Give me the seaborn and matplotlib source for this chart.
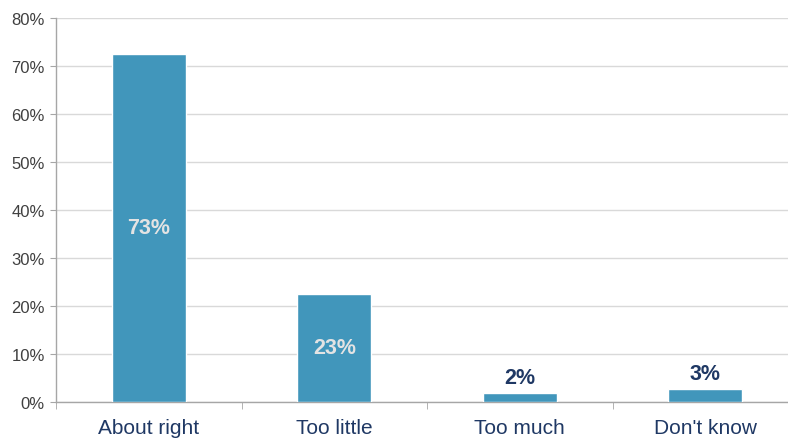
import pandas as pd
import seaborn as sns
import matplotlib.pyplot as plt
from matplotlib.ticker import FixedLocator, PercentFormatter

categories = ["About right", "Too little", "Too much", "Don't know"]
values = [72.5, 22.5, 1.9, 2.8]
labels = ["73%", "23%", "2%", "3%"]

df = pd.DataFrame({"answer": categories, "share": values})

sns.set_style("white")
plt.rcParams["font.family"] = ["Liberation Sans", "DejaVu Sans"]

fig = plt.figure(figsize=(7.88, 4.39), dpi=100)
ax = fig.add_axes([56 / 788, 36 / 439, 742 / 788, 384 / 439])

sns.barplot(data=df, x="answer", y="share", color="#4196bb", saturation=1,
            width=0.4, ax=ax, zorder=3)

ax.set_ylim(0, 80)
ax.set_xlim(-0.5, 3.5)
ax.set_yticks(range(0, 81, 10))
ax.yaxis.set_major_formatter(PercentFormatter(decimals=0))
ax.grid(axis="y", color="#d9d9d9", linewidth=1, zorder=0)
ax.set_xlabel("")
ax.set_ylabel("")

for s in ["top", "right"]:
    ax.spines[s].set_visible(False)
for s in ["left", "bottom"]:
    ax.spines[s].set_color("#a6a6a6")
    ax.spines[s].set_linewidth(1)

ax.tick_params(axis="y", labelsize=12, labelcolor="#404040", left=True,
               length=4, color="#a6a6a6", pad=4)
ax.tick_params(axis="x", labelsize=15, labelcolor="#1f3864", bottom=False, pad=8)
ax.xaxis.set_minor_locator(FixedLocator([-0.5, 0.5, 1.5, 2.5, 3.5]))
ax.tick_params(axis="x", which="minor", bottom=True, length=5, color="#a6a6a6")

for i, (v, lab) in enumerate(zip(values, labels)):
    if v > 10:
        ax.text(i, v / 2, lab, ha="center", va="center", fontsize=15.5,
                fontweight="bold", color="#e3e3e3", zorder=4)
    else:
        ax.text(i, v + 1, lab, ha="center", va="bottom", fontsize=15.5,
                fontweight="bold", color="#1f3864", zorder=4)

fig.savefig("out.png", dpi=100)
